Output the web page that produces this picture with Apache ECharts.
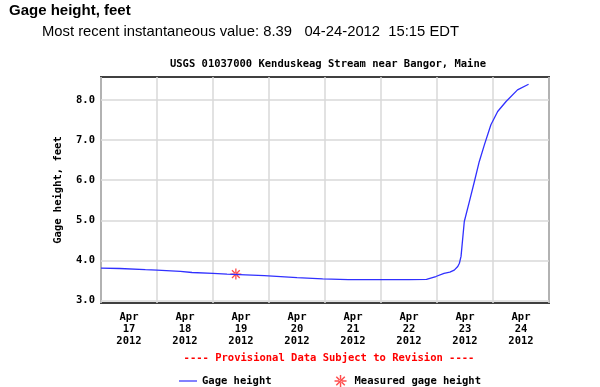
<!DOCTYPE html>
<html>
<head>
<meta charset="utf-8">
<script src="https://cdn.jsdelivr.net/npm/echarts@6/dist/echarts.min.js"></script>
<style>
html,body{margin:0;padding:0;background:#fff;}
#c{width:600px;height:387px;}
</style>
</head>
<body>
<div id="c"></div>
<script>
// Hours since Apr 17 2012 00:00
const hours = [0, 8, 19, 24, 34, 39, 48, 54, 62, 70, 84, 95, 106, 119, 132, 139.5, 143.5, 147, 149.5, 151.4, 152.9, 153.6, 154.3, 155.7, 157.9, 160, 162.1, 164.3, 167.1, 170, 173.6, 178.5, 183.25];
const gage = [3.81, 3.80, 3.77, 3.76, 3.73, 3.70, 3.68, 3.66, 3.64, 3.62, 3.57, 3.54, 3.52, 3.52, 3.52, 3.53, 3.60, 3.68, 3.71, 3.76, 3.85, 3.93, 4.10, 4.97, 5.47, 5.96, 6.46, 6.88, 7.38, 7.71, 7.96, 8.25, 8.39];
const measuredHours = [57.8];
const measuredValues = [3.66];
const dayLabels = ['Apr\n17\n2012', 'Apr\n18\n2012', 'Apr\n19\n2012', 'Apr\n20\n2012', 'Apr\n21\n2012', 'Apr\n22\n2012', 'Apr\n23\n2012', 'Apr\n24\n2012'];
const yTicks = [3, 4, 5, 6, 7, 8];

const mono = '"DejaVu Sans Mono", monospace';
const star = 'path://M-5,-0.6L5,-0.6L5,0.6L-5,0.6Z M-0.6,-5L0.6,-5L0.6,5L-0.6,5Z M-3.96,-3.11L3.11,3.96L3.96,3.11L-3.11,-3.96Z M-3.96,3.11L3.11,-3.96L3.96,-3.11L-3.11,3.96Z';

const chart = echarts.init(document.getElementById('c'));
chart.setOption({
  animation: false,
  title: [
    { text: 'Gage height, feet', left: 4, top: -2,
      textStyle: { fontFamily: '"Liberation Sans", Arial, sans-serif', fontWeight: 'bold', fontSize: 15, color: '#000' } },
    { text: 'Most recent instantaneous value: 8.39   04-24-2012  15:15 EDT', left: 37, top: 19,
      textStyle: { fontFamily: '"Liberation Sans", Arial, sans-serif', fontWeight: 'normal', fontSize: 14.8, color: '#000' } },
    { text: 'USGS 01037000 Kenduskeag Stream near Bangor, Maine', left: 323, top: 54, textAlign: 'center',
      textStyle: { fontFamily: mono, fontWeight: 'bold', fontSize: 10.5, color: '#000' } },
    { text: '---- Provisional Data Subject to Revision ----', left: 324, top: 348, textAlign: 'center',
      textStyle: { fontFamily: mono, fontWeight: 'bold', fontSize: 10.5, color: '#ff0000' } }
  ],
  legend: {
    left: 174, top: 370, itemGap: 63, itemWidth: 18, itemHeight: 12,
    textStyle: { fontFamily: mono, fontWeight: 'bold', fontSize: 10.5, color: '#000' },
    data: [
      { name: 'Gage height', icon: 'path://M0,5.4L18,5.4L18,6.6L0,6.6Z', itemStyle: { color: '#3030ff' } },
      { name: 'Measured gage height', icon: star, itemStyle: { color: '#ff2020' } }
    ]
  },
  grid: { left: 101, top: 77, right: 51, bottom: 84, show: true, borderColor: '#404040', borderWidth: 2, backgroundColor: '#fff' },
  xAxis: [
    { type: 'value', min: 0, max: 192, interval: 24,
      axisLine: { show: false }, axisTick: { show: false }, axisLabel: { show: false },
      splitLine: { show: true, lineStyle: { color: '#d8d8d8', width: 1.5 } } },
    { type: 'category', position: 'bottom', data: dayLabels, boundaryGap: true,
      axisLine: { show: false }, axisTick: { show: false }, splitLine: { show: false },
      axisLabel: { margin: 8, lineHeight: 12, fontFamily: mono, fontWeight: 'bold', fontSize: 10.5, color: '#000' } }
  ],
  yAxis: {
    type: 'value', min: 2.94, max: 8.57,
    name: 'Gage height, feet', nameLocation: 'middle', nameGap: 37,
    nameTextStyle: { fontFamily: mono, fontWeight: 'bold', fontSize: 10.5, color: '#000' },
    axisLine: { show: false },
    axisTick: { show: false, customValues: yTicks },
    axisLabel: { customValues: yTicks, margin: 6, fontFamily: mono, fontWeight: 'bold', fontSize: 10.5, color: '#000',
      formatter: v => v.toFixed(1) },
    splitLine: { show: true, lineStyle: { color: '#d8d8d8', width: 1.5 } }
  },
  series: [
    { name: 'Gage height', type: 'line', xAxisIndex: 0, symbol: 'none',
      lineStyle: { color: '#3030ff', width: 1.3 },
      data: hours.map((h, i) => [h, gage[i]]) },
    { name: 'Measured gage height', type: 'scatter', xAxisIndex: 0, symbol: star, symbolSize: 11,
      itemStyle: { color: '#ff2020' },
      data: measuredHours.map((h, i) => [h, measuredValues[i]]) }
  ]
});
</script>
</body>
</html>
